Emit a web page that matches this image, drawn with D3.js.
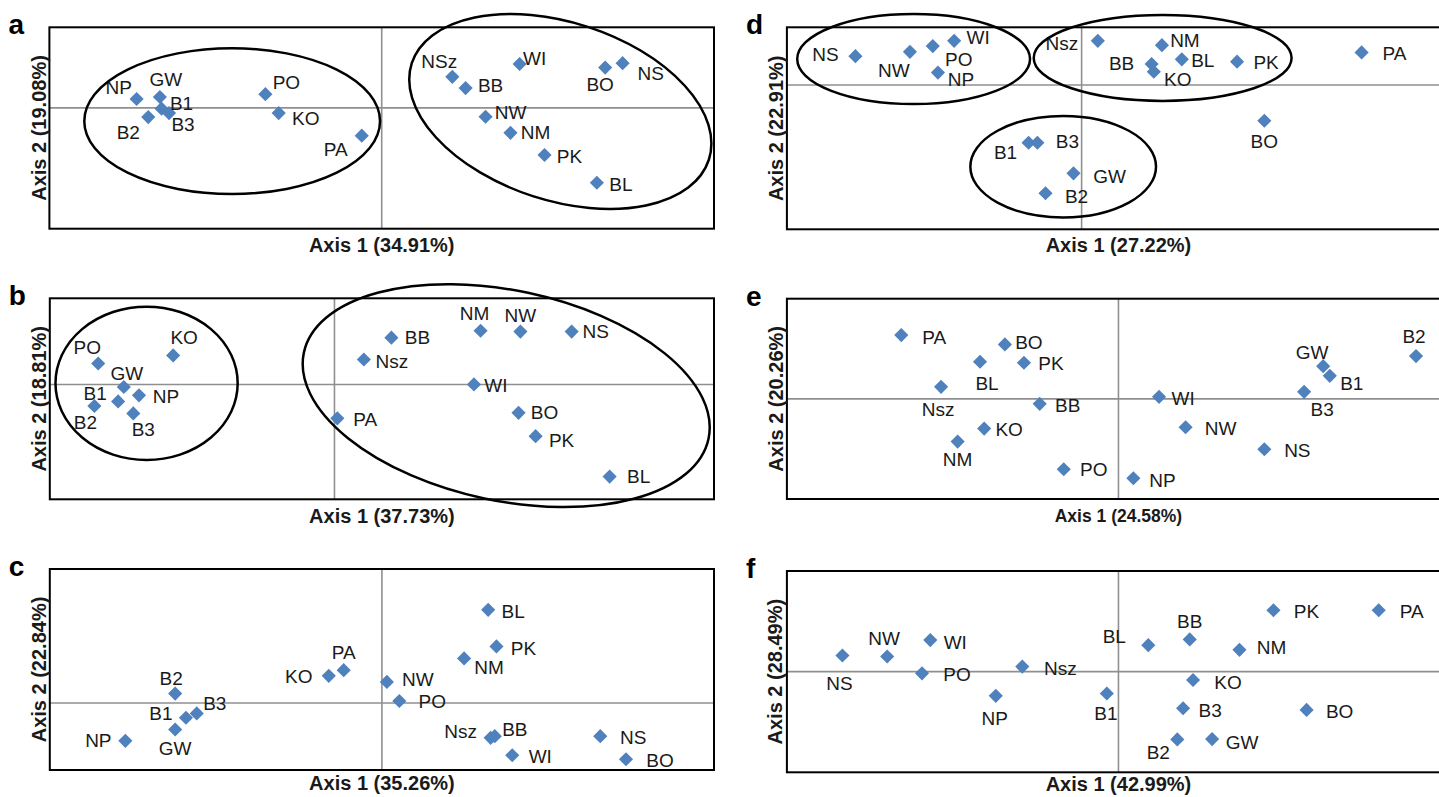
<!DOCTYPE html>
<html lang="en">
<head>
<meta charset="UTF-8">
<title>PCoA panels a-f</title>
<script src="https://d3js.org/d3.v7.min.js"></script>
<style>
    body { margin: 0; background: #fff; }
    svg { display: block; }
    .pt-label { font-family: "Liberation Sans", Arial, sans-serif; font-size: 19px; fill: #1a1a1a; }
    .ax-title { font-family: "Liberation Sans", Arial, sans-serif; font-weight: bold; font-size: 20px; fill: #1a1a1a; }
    .letter { font-family: "Liberation Sans", Arial, sans-serif; font-weight: bold; font-size: 28px; fill: #000; }
</style>
</head>
<body>
<svg id="fig" width="1439" height="797"></svg>
<script>
// ---- data: sample names and coordinates on the two axes, one set per panel ----
const namesA = ["NP","GW","B1","B3","B2","PO","KO","PA","NSz","BB","WI","BO","NS","NW","NM","PK","BL"];
const axis1A = [-0.295,-0.267,-0.265,-0.256,-0.281,-0.140,-0.124,-0.024,0.085,0.101,0.166,0.269,0.290,0.125,0.155,0.196,0.259];
const axis2A = [0.022,0.027,-0.002,-0.013,-0.023,0.034,-0.013,-0.069,0.077,0.049,0.109,0.100,0.111,-0.022,-0.062,-0.117,-0.186];

const namesB = ["PO","KO","GW","NP","B1","B2","B3","BB","Nsz","NM","NW","NS","WI","PA","BO","PK","BL"];
const axis1B = [-0.249,-0.170,-0.222,-0.206,-0.228,-0.253,-0.212,0.060,0.031,0.154,0.196,0.250,0.147,0.003,0.194,0.212,0.290];
const axis2B = [0.073,0.101,-0.009,-0.038,-0.059,-0.075,-0.101,0.163,0.087,0.187,0.184,0.184,0.000,-0.118,-0.099,-0.180,-0.321];

const namesC = ["BL","PK","NM","PA","KO","NW","PO","B2","B3","B1","GW","NP","Nsz","BB","WI","NS","BO"];
const axis1C = [0.128,0.138,0.099,-0.046,-0.064,0.006,0.021,-0.249,-0.223,-0.236,-0.249,-0.309,0.131,0.136,0.157,0.263,0.294];
const axis2C = [0.278,0.169,0.133,0.098,0.081,0.063,0.006,0.028,-0.031,-0.044,-0.079,-0.113,-0.104,-0.099,-0.156,-0.099,-0.168];

const namesD = ["NS","NW","PO","WI","NP","Nsz","NM","BB","KO","BL","PK","PA","BO","B1","B3","GW","B2"];
const axis1D = [-0.307,-0.233,-0.202,-0.173,-0.195,0.022,0.109,0.095,0.098,0.136,0.211,0.380,0.248,-0.072,-0.060,-0.011,-0.049];
const axis2D = [0.100,0.115,0.135,0.153,0.043,0.153,0.138,0.073,0.046,0.089,0.081,0.113,-0.124,-0.200,-0.200,-0.306,-0.375];

const namesE = ["PA","BO","BL","PK","Nsz","BB","KO","NM","PO","NP","WI","NW","NS","GW","B1","B3","B2"];
const axis1E = [-0.262,-0.137,-0.167,-0.114,-0.214,-0.095,-0.162,-0.194,-0.066,0.018,0.049,0.081,0.176,0.247,0.255,0.224,0.359];
const axis2E = [0.191,0.163,0.111,0.108,0.036,-0.015,-0.089,-0.128,-0.211,-0.238,0.006,-0.085,-0.151,0.098,0.069,0.021,0.128];

const namesF = ["PK","PA","BB","BL","NM","WI","NW","NS","PO","Nsz","NP","B1","KO","B3","BO","B2","GW"];
const axis1F = [0.187,0.314,0.086,0.036,0.146,-0.227,-0.279,-0.333,-0.237,-0.116,-0.148,-0.014,0.090,0.078,0.227,0.071,0.113];
const axis2F = [0.183,0.183,0.096,0.079,0.065,0.094,0.045,0.048,-0.005,0.015,-0.072,-0.065,-0.025,-0.109,-0.114,-0.202,-0.201];

// explained variance per axis (titles)
const axis1Pct = ["34.91%","37.73%","35.26%","27.22%","24.58%","42.99%"];
const axis2Pct = ["19.08%","18.81%","22.84%","22.91%","20.26%","28.49%"];

// grouping ellipses drawn on a, b and d (centre, radii in axis units)
const groupsA = [{cx:-0.180, cy:-0.033, rx:0.178, ry:0.181, rot:0}, {cx:0.215, cy:-0.009, rx:0.188, ry:0.221, rot:18}];
const groupsB = [{cx:-0.198, cy:0.004, rx:0.096, ry:0.267, rot:0}, {cx:0.181, cy:-0.039, rx:0.218, ry:0.366, rot:12}];
const groupsD = [{cx:-0.228, cy:0.090, rx:0.158, ry:0.156, rot:0}, {cx:0.110, cy:0.094, rx:0.175, ry:0.149, rot:0},
                 {cx:-0.025, cy:-0.283, rx:0.126, ry:0.176, rot:0}];

// ---- layout (frames, domains, label placement) ----
const panels = [
    {letter:"a", names:namesA, xs:axis1A, ys:axis2A, groups:groupsA,
     frame:[49.4,714,27.3,228.7], xDom:[-0.4,0.4], yDom:[-0.3,0.2], xTitleY:252, yTitleX:39, titleSize:20,
     lab:{NP:[-18,-11],GW:[6,-17],B1:[20,-5],B3:[14,11],B2:[-20,15],PO:[21,-12],KO:[27,5],PA:[-26,14],NSz:[-13,-15],
          BB:[25,-3],WI:[15,-5],BO:[-5,17],NS:[28,10],NW:[25,-4],NM:[25,0],PK:[25,2],BL:[24,2]}},
    {letter:"b", names:namesB, xs:axis1B, ys:axis2B, groups:groupsB,
     frame:[49.8,714,298.3,499.3], xDom:[-0.3,0.4], yDom:[-0.4,0.3], xTitleY:523, yTitleX:39, titleSize:20,
     lab:{PO:[-11,-16],KO:[11,-18],GW:[3,-14],B1:[-23,-8],NP:[27,1],B2:[-9,17],B3:[10,16],BB:[26,0],Nsz:[28,2],
          NM:[-6,-17],NW:[0,-16],NS:[24,0],WI:[22,1],PA:[28,1],BO:[26,0],PK:[26,4],BL:[29,0]}},
    {letter:"c", names:namesC, xs:axis1C, ys:axis2C, groups:[],
     frame:[49.8,714,569,770], xDom:[-0.4,0.4], yDom:[-0.2,0.4], xTitleY:790, yTitleX:39, titleSize:20,
     lab:{BL:[25,2],PK:[27,2],NM:[25,9],PA:[0,-18],KO:[-30,1],NW:[31,-2],PO:[33,1],B2:[-4,-15],B3:[18,-10],B1:[-25,-4],
          GW:[0,19],NP:[-27,0],Nsz:[-30,-6],BB:[20,-7],WI:[28,1],NS:[33,1],BO:[34,1]}},
    {letter:"d", names:namesD, xs:axis1D, ys:axis2D, groups:groupsD,
     frame:[786.9,1450,27.3,229.3], xDom:[-0.4,0.5], yDom:[-0.5,0.2], xTitleY:252, yTitleX:776, titleSize:20,
     lab:{NS:[-30,-2],NW:[-16,19],PO:[26,13],WI:[24,-3],NP:[23,7],Nsz:[-36,3],NM:[23,-5],BB:[-30,0],KO:[24,8],BL:[21,1],
          PK:[29,1],PA:[33,1],BO:[0,21],B1:[-23,10],B3:[30,-1],GW:[36,3],B2:[31,3]}},
    {letter:"e", names:namesE, xs:axis1E, ys:axis2E, groups:[],
     frame:[786.9,1450,298.7,499], xDom:[-0.4,0.4], yDom:[-0.3,0.3], xTitleY:522, yTitleX:776, titleSize:17.5,
     lab:{PA:[33,2],BO:[24,-2],BL:[7,22],PK:[27,1],Nsz:[-3,23],BB:[28,2],KO:[25,1],NM:[0,18],PO:[30,0],NP:[29,2],
          WI:[24,2],NW:[35,1],NS:[33,1],GW:[-11,-14],B1:[22,8],B3:[18,18],B2:[-2,-20]}},
    {letter:"f", names:namesF, xs:axis1F, ys:axis2F, groups:[],
     frame:[786.9,1450,571,772.3], xDom:[-0.4,0.4], yDom:[-0.3,0.3], xTitleY:791, yTitleX:775, titleSize:20,
     lab:{PK:[33,1],PA:[33,1],BB:[0,-18],BL:[-34,-9],NM:[32,-2],WI:[25,2],NW:[-3,-18],NS:[-3,28],PO:[35,1],Nsz:[38,2],
          NP:[-1,23],B1:[-1,20],KO:[35,2],B3:[27,2],BO:[33,2],B2:[-19,13],GW:[30,3]}}
];

const svg = d3.select("#fig");
const diamond = d3.symbol().type(d3.symbolSquare).size(100);

panels.forEach((p, i) => {
    const [x0, x1, y0, y1] = p.frame;
    const x = d3.scaleLinear().domain(p.xDom).range([x0, x1]);
    const y = d3.scaleLinear().domain(p.yDom).range([y1, y0]);
    const g = svg.append("g");

    // zero lines
    g.append("line")
        .attr("x1", x(0)).attr("x2", x(0)).attr("y1", y0).attr("y2", y1)
        .attr("stroke", "#8f8f8f").attr("stroke-width", 1.6);
    g.append("line")
        .attr("x1", x0).attr("x2", x1).attr("y1", y(0)).attr("y2", y(0))
        .attr("stroke", "#8f8f8f").attr("stroke-width", 1.6);

    // plot frame
    g.append("rect")
        .attr("x", x0).attr("y", y0).attr("width", x1 - x0).attr("height", y1 - y0)
        .attr("fill", "none").attr("stroke", "#000").attr("stroke-width", 2);

    const pts = p.names.map((n, k) => ({name: n, a1: p.xs[k], a2: p.ys[k]}));

    g.selectAll("path.pt").data(pts).join("path")
        .attr("class", "pt")
        .attr("d", diamond)
        .attr("transform", d => `translate(${x(d.a1)},${y(d.a2)}) rotate(45)`)
        .attr("fill", "#4f81bd");

    g.selectAll("text.pt-label").data(pts).join("text")
        .attr("class", "pt-label")
        .attr("x", d => x(d.a1) + p.lab[d.name][0])
        .attr("y", d => y(d.a2) + p.lab[d.name][1])
        .attr("text-anchor", "middle")
        .attr("dominant-baseline", "central")
        .text(d => d.name);

    // group ellipses
    g.selectAll("ellipse").data(p.groups).join("ellipse")
        .attr("cx", 0).attr("cy", 0)
        .attr("rx", d => Math.abs(x(d.rx) - x(0)))
        .attr("ry", d => Math.abs(y(d.ry) - y(0)))
        .attr("transform", d => `translate(${x(d.cx)},${y(d.cy)}) rotate(${d.rot})`)
        .attr("fill", "none").attr("stroke", "#000").attr("stroke-width", 2.5);

    // axis titles
    g.append("text").attr("class", "ax-title")
        .attr("x", (x0 + x1) / 2).attr("y", p.xTitleY)
        .attr("text-anchor", "middle")
        .style("font-size", p.titleSize + "px")
        .text(`Axis 1 (${axis1Pct[i]})`);
    g.append("text").attr("class", "ax-title")
        .attr("transform", `translate(${p.yTitleX},${(y0 + y1) / 2}) rotate(-90)`)
        .attr("text-anchor", "middle")
        .attr("dominant-baseline", "central")
        .text(`Axis 2 (${axis2Pct[i]})`);

    g.append("text").attr("class", "letter")
        .attr("x", x0 - 41).attr("y", y0 + 7)
        .text(p.letter);
});
</script>
</body>
</html>
